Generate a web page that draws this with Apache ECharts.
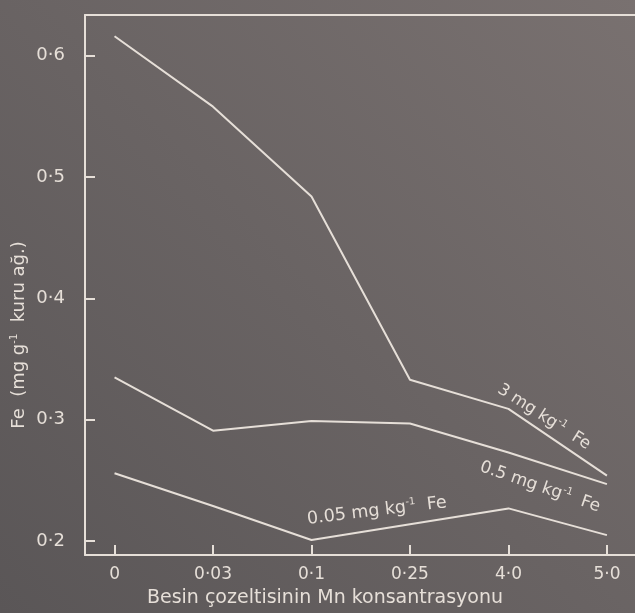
<!DOCTYPE html>
<html>
<head>
<meta charset="utf-8">
<script src="https://cdn.jsdelivr.net/npm/echarts@6/dist/echarts.min.js"></script>
<style>
  html, body { margin: 0; padding: 0; }
  #main { width: 635px; height: 613px; }
</style>
</head>
<body>
<div id="main"></div>
<script>
// Mn konsantrasyonu (kategoriler, eşit aralıklı)
var xLabels = ['0', '0·03', '0·1', '0·25', '4·0', '5·0'];
var yTicks = [0.2, 0.3, 0.4, 0.5, 0.6];
// Fe (mg g-1 kuru ağ.) for each Fe level in the solution
var fe3 = [0.616, 0.558, 0.484, 0.333, 0.309, 0.254];
var fe05 = [0.335, 0.291, 0.299, 0.297, 0.273, 0.247];
var fe005 = [0.256, 0.229, 0.201, 0.214, 0.227, 0.205];

var ink = '#e6dfd8';
var font = 'DejaVu Sans';

function pairs(arr) {
    return arr.map(function (v, i) { return [i, v]; });
}

var myChart = echarts.init(document.getElementById('main'));

function lineSeries(name, data) {
    return {
        name: name,
        type: 'line',
        data: pairs(data),
        symbol: 'none',
        lineStyle: { color: ink, width: 2 },
        silent: true
    };
}

var supRich = {
    s: { fontSize: 10, verticalAlign: 'top', fill: ink, fontFamily: font }
};

function note(text, x, y, rot, size) {
    return {
        type: 'text',
        x: x,
        y: y,
        rotation: rot,
        style: {
            text: text,
            fill: ink,
            font: size + 'px "' + font + '"',
            align: 'center',
            verticalAlign: 'middle',
            lineHeight: 20,
            rich: supRich
        }
    };
}

option = {
    backgroundColor: new echarts.graphic.LinearGradient(1, 0, 0, 1, [
        { offset: 0, color: '#797170' },
        { offset: 1, color: '#5a5657' }
    ]),
    animation: false,
    grid: { left: 85, right: 0, top: 15, bottom: 51 },
    xAxis: [{
        type: 'value',
        min: -0.3,
        max: 5.285,
        axisLine: { show: true, onZero: false, lineStyle: { color: ink, width: 2 } },
        axisTick: { show: true, inside: true, length: 10, customValues: [0, 1, 2, 3, 4, 5], lineStyle: { color: ink, width: 2 } },
        axisLabel: {
            customValues: [0, 1, 2, 3, 4, 5],
            formatter: function (v) { return xLabels[Math.round(v)]; },
            color: ink, fontFamily: font, fontSize: 17, margin: 11
        },
        splitLine: { show: false },
        name: 'Besin çozeltisinin Mn konsantrasyonu',
        nameLocation: 'middle',
        nameGap: 34,
        nameTextStyle: { color: ink, fontFamily: font, fontSize: 19, padding: [0, 70, 0, 0] }
    }, {
        type: 'value',
        position: 'top',
        min: -0.3,
        max: 5.285,
        axisLine: { show: true, onZero: false, lineStyle: { color: ink, width: 2 } },
        axisTick: { show: false },
        axisLabel: { show: false },
        splitLine: { show: false }
    }],
    yAxis: {
        type: 'value',
        min: 0.1886,
        max: 0.6335,
        axisLine: { show: true, onZero: false, lineStyle: { color: ink, width: 2 } },
        axisTick: { show: true, inside: true, length: 10, customValues: yTicks, lineStyle: { color: ink, width: 2 } },
        axisLabel: {
            customValues: yTicks,
            formatter: function (v) { return v.toFixed(1).replace('.', '·'); },
            color: ink, fontFamily: font, fontSize: 18, margin: 20
        },
        splitLine: { show: false }
    },
    graphic: [
        note('Fe  (mg g{s|-1}  kuru ağ.)', 19, 335, Math.PI / 2, 18),
        note('3 mg kg{s|-1}  Fe', 544, 417, -0.57, 16.5),
        note('0.5 mg kg{s|-1}  Fe', 540, 487, -0.33, 17),
        note('0.05 mg kg{s|-1}  Fe', 377, 511, 0.12, 17.5)
    ],
    series: [
        lineSeries('3 mg kg-1 Fe', fe3),
        lineSeries('0.5 mg kg-1 Fe', fe05),
        lineSeries('0.05 mg kg-1 Fe', fe005)
    ]
};

myChart.setOption(option);
</script>
</body>
</html>
